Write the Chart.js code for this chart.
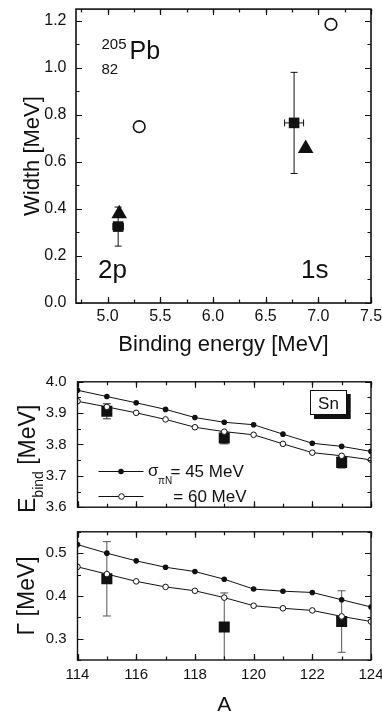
<!DOCTYPE html>
<html>
<head>
<meta charset="utf-8">
<script src="https://cdn.jsdelivr.net/npm/chart.js@4.4.1/dist/chart.umd.min.js"></script>
<style>
  html, body { margin: 0; padding: 0; background: #fff; }
  body { width: 382px; height: 715px; position: relative; overflow: hidden; }
  canvas { position: absolute; left: 0; }
  #chartTop { top: -10px; }
  #chartMid { top: 362px; }
  #chartBot { top: 512px; }
</style>
</head>
<body>
<canvas id="chartTop" width="390" height="372"></canvas>
<canvas id="chartMid" width="390" height="165"></canvas>
<canvas id="chartBot" width="390" height="203"></canvas>
<script>
// --- 205Pb widths vs binding energy (top panel)
const expBinding = [5.10, 6.77];
const expWidth = [0.325, 0.766];
const expBindingErr = [0.05, 0.09];
const expWidthErr = [0.083, 0.215];
const triBinding = [5.11, 6.88];
const triWidth = [0.38, 0.657];
const circBinding = [5.30, 7.12];
const circWidth = [0.75, 1.185];
const bindingTicks = [5.0, 5.5, 6.0, 6.5, 7.0, 7.5];
const widthTicks = [0.0, 0.2, 0.4, 0.6, 0.8, 1.0, 1.2];

// --- Sn isotopes (middle and bottom panels)
const massNumbers = [114, 115, 116, 117, 118, 119, 120, 121, 122, 123, 124];
const ebind45 = [3.973, 3.953, 3.933, 3.912, 3.886, 3.871, 3.863, 3.833, 3.804, 3.794, 3.778];
const ebind60 = [3.938, 3.920, 3.901, 3.880, 3.855, 3.841, 3.831, 3.802, 3.774, 3.764, 3.751];
const gamma45 = [0.520, 0.500, 0.482, 0.467, 0.457, 0.439, 0.416, 0.411, 0.408, 0.391, 0.374];
const gamma60 = [0.468, 0.451, 0.434, 0.421, 0.412, 0.396, 0.377, 0.371, 0.366, 0.352, 0.340];
const expMass = [115, 119, 123];
const expEbind = [3.906, 3.821, 3.743];
const expEbindErr = [0.024, 0.019, 0.018];
const expGamma = [0.440, 0.327, 0.340];
const expGammaErr = [0.087, 0.080, 0.072];
const massTicks = [114, 116, 118, 120, 122, 124];
const ebindTicks = [3.6, 3.7, 3.8, 3.9, 4.0];
const gammaTicks = [0.3, 0.4, 0.5];

const FONT = "'Liberation Sans', Arial, sans-serif";
const INK = '#111';
Chart.defaults.font.family = FONT;
Chart.defaults.color = INK;

const pairs = (xs, ys) => xs.map((v, i) => ({ x: v, y: ys[i] }));

// box + inward ticks on all four sides
function makeFrame(cfg) {
  return {
    id: 'frame',
    afterDatasetsDraw(chart) {
      const { ctx, chartArea: a } = chart;
      const xs = chart.scales.x, ys = chart.scales.y;
      ctx.save();
      ctx.strokeStyle = INK;
      ctx.lineWidth = cfg.lineWidth;
      ctx.strokeRect(a.left, a.top, a.right - a.left, a.bottom - a.top);
      ctx.lineWidth = 1.2;
      const marks = (scale, step, len, horiz) => {
        const i0 = Math.ceil(scale.min / step - 1e-6);
        const i1 = Math.floor(scale.max / step + 1e-6);
        ctx.beginPath();
        for (let i = i0; i <= i1; i++) {
          const p = Math.round(scale.getPixelForValue(i * step)) + 0.5;
          if (horiz) {
            ctx.moveTo(p, a.bottom); ctx.lineTo(p, a.bottom - len);
            ctx.moveTo(p, a.top); ctx.lineTo(p, a.top + len);
          } else {
            ctx.moveTo(a.left, p); ctx.lineTo(a.left + len, p);
            ctx.moveTo(a.right, p); ctx.lineTo(a.right - len, p);
          }
        }
        ctx.stroke();
      };
      marks(xs, cfg.xMinor, 3.5, true);
      marks(xs, cfg.xMajor, 6, true);
      marks(ys, cfg.yMinor, 3.5, false);
      marks(ys, cfg.yMajor, 6, false);
      ctx.restore();
    }
  };
}

// error bars from dataset.xErr / dataset.yErr
const errorBarPlugin = {
  id: 'errorBars',
  beforeDatasetsDraw(chart) {
    const { ctx, chartArea: a } = chart;
    const xs = chart.scales.x, ys = chart.scales.y;
    ctx.save();
    ctx.beginPath();
    ctx.rect(a.left, a.top, a.right - a.left, a.bottom - a.top);
    ctx.clip();
    chart.data.datasets.forEach(ds => {
      if (!ds.yErr && !ds.xErr) return;
      ctx.strokeStyle = ds.errColor || INK;
      ctx.lineWidth = 1;
      const cap = ds.capSize || 3.5;
      ds.data.forEach((pt, i) => {
        const px = xs.getPixelForValue(pt.x);
        const py = ys.getPixelForValue(pt.y);
        ctx.beginPath();
        if (ds.yErr) {
          const y1 = ys.getPixelForValue(pt.y + ds.yErr[i]);
          const y2 = ys.getPixelForValue(pt.y - ds.yErr[i]);
          ctx.moveTo(px, y1); ctx.lineTo(px, y2);
          ctx.moveTo(px - cap, y1); ctx.lineTo(px + cap, y1);
          ctx.moveTo(px - cap, y2); ctx.lineTo(px + cap, y2);
        }
        if (ds.xErr) {
          const x1 = xs.getPixelForValue(pt.x - ds.xErr[i]);
          const x2 = xs.getPixelForValue(pt.x + ds.xErr[i]);
          ctx.moveTo(x1, py); ctx.lineTo(x2, py);
          ctx.moveTo(x1, py - cap); ctx.lineTo(x1, py + cap);
          ctx.moveTo(x2, py - cap); ctx.lineTo(x2, py + cap);
        }
        ctx.stroke();
      });
    });
    ctx.restore();
  }
};

function text(ctx, str, x, y, size, align) {
  ctx.font = size + 'px ' + FONT;
  ctx.textAlign = align || 'left';
  ctx.textBaseline = 'alphabetic';
  ctx.fillText(str, x, y);
}

const fixedTicks = list => scale => { scale.ticks = list.map(v => ({ value: v })); };

// ---------- top panel ----------
new Chart(document.getElementById('chartTop'), {
  type: 'scatter',
  data: {
    datasets: [
      {
        data: pairs(expBinding, expWidth),
        xErr: expBindingErr, yErr: expWidthErr, capSize: 3.5,
        pointStyle: 'rect', pointRadius: 7.5,
        backgroundColor: INK, borderColor: INK, borderWidth: 0
      },
      {
        data: pairs(triBinding, triWidth),
        pointStyle: 'triangle', pointRadius: 9,
        backgroundColor: INK, borderColor: INK, borderWidth: 0
      },
      {
        data: pairs(circBinding, circWidth),
        pointStyle: 'circle', pointRadius: 5.8,
        backgroundColor: '#fff', borderColor: INK, borderWidth: 1.6
      }
    ]
  },
  options: {
    responsive: false,
    animation: false,
    layout: { padding: { top: 15, right: 19, bottom: 0, left: 0 } },
    scales: {
      x: {
        type: 'linear', min: 4.7, max: 7.5,
        afterBuildTicks: fixedTicks(bindingTicks),
        afterFit: s => { s.height = 59; },
        grid: { display: false, drawTicks: false },
        border: { display: false },
        ticks: { padding: 4, font: { size: 16 }, callback: v => v.toFixed(1) },
        title: { display: true, text: 'Binding energy [MeV]', font: { size: 22 }, padding: { top: 0, bottom: 4 } }
      },
      y: {
        min: 0, max: 1.25,
        afterBuildTicks: fixedTicks(widthTicks),
        afterFit: s => { s.width = 76; },
        grid: { display: false, drawTicks: false },
        border: { display: false },
        ticks: { padding: 9.5, font: { size: 16 }, callback: v => v.toFixed(1) },
        title: { display: true, text: 'Width [MeV]', font: { size: 22 }, padding: { top: 19.5, bottom: 0 } }
      }
    },
    plugins: { legend: { display: false }, tooltip: { enabled: false } }
  },
  plugins: [errorBarPlugin, makeFrame({ xMajor: 0.5, xMinor: 0.25, yMajor: 0.2, yMinor: 0.1, lineWidth: 1.6 }), {
    id: 'notesTop',
    afterDraw(chart) {
      const ctx = chart.ctx;
      ctx.save();
      ctx.fillStyle = INK;
      text(ctx, '205', 101.5, 59, 15);
      text(ctx, 'Pb', 129.5, 69.3, 25);
      text(ctx, '82', 101.5, 84, 15);
      text(ctx, '2p', 98, 288.3, 26);
      text(ctx, '1s', 301, 288.3, 26);
      ctx.restore();
    }
  }]
});

// ---------- middle panel: binding energy ----------
new Chart(document.getElementById('chartMid'), {
  type: 'line',
  data: {
    datasets: [
      {
        data: pairs(massNumbers, ebind45), clip: 0,
        borderColor: INK, borderWidth: 1,
        pointRadius: 2.8, pointBackgroundColor: INK, pointBorderColor: INK, pointBorderWidth: 0
      },
      {
        data: pairs(massNumbers, ebind60), clip: 0,
        borderColor: INK, borderWidth: 1,
        pointRadius: 2.8, pointBackgroundColor: '#fff', pointBorderColor: INK, pointBorderWidth: 1
      },
      {
        data: pairs(expMass, expEbind),
        yErr: expEbindErr, errColor: '#333', capSize: 4,
        showLine: false, pointStyle: 'rect', pointRadius: 7.8,
        pointBackgroundColor: INK, pointBorderWidth: 0
      }
    ]
  },
  options: {
    responsive: false,
    animation: false,
    layout: { padding: { top: 17.5, right: 19, bottom: 12, left: 0 } },
    scales: {
      x: { type: 'linear', min: 114, max: 124, display: false },
      y: {
        min: 3.6, max: 4.0,
        afterBuildTicks: fixedTicks(ebindTicks),
        afterFit: s => { s.width = 77.5; },
        grid: { display: false, drawTicks: false },
        border: { display: false },
        ticks: { padding: 10.8, font: { size: 15 }, callback: v => v.toFixed(1) },
        title: { display: false }
      }
    },
    plugins: { legend: { display: false }, tooltip: { enabled: false } }
  },
  plugins: [errorBarPlugin, makeFrame({ xMajor: 2, xMinor: 1, yMajor: 0.1, yMinor: 0.05, lineWidth: 1.4 }), {
    id: 'notesMid',
    afterDraw(chart) {
      const ctx = chart.ctx;
      ctx.save();
      ctx.fillStyle = INK;
      ctx.strokeStyle = INK;
      // y title E_bind [MeV]
      ctx.save();
      ctx.translate(35, 151);
      ctx.rotate(-Math.PI / 2);
      ctx.font = '23px ' + FONT;
      const wE = ctx.measureText('E').width;
      text(ctx, 'E', 0, 0, 23);
      ctx.font = '14px ' + FONT;
      const wSub = ctx.measureText('bind').width;
      text(ctx, 'bind', wE, 8, 14);
      text(ctx, ' [MeV]', wE + wSub, 0, 23);
      ctx.restore();
      // legend
      ctx.lineWidth = 1;
      ctx.beginPath();
      ctx.moveTo(98.5, 109.5); ctx.lineTo(143.5, 109.5);
      ctx.moveTo(98.5, 134.5); ctx.lineTo(143.5, 134.5);
      ctx.stroke();
      ctx.beginPath(); ctx.arc(121, 109.5, 2.8, 0, Math.PI * 2); ctx.fill();
      ctx.beginPath(); ctx.arc(121.5, 134.5, 2.8, 0, Math.PI * 2);
      ctx.fillStyle = '#fff'; ctx.fill(); ctx.stroke();
      ctx.fillStyle = INK;
      text(ctx, '\u03c3', 148, 114, 17);
      text(ctx, '\u03c0N', 158, 122.3, 10);
      text(ctx, '= 45 MeV', 170.5, 115, 17);
      text(ctx, '= 60 MeV', 173.3, 140.3, 17);
      // Sn box with shadow
      ctx.fillRect(314, 32, 36.7, 25);
      ctx.fillStyle = '#fff';
      ctx.fillRect(310, 28, 36.7, 25);
      ctx.strokeRect(310.5, 28.5, 36, 24);
      ctx.fillStyle = INK;
      text(ctx, 'Sn', 328.5, 46.5, 17, 'center');
      ctx.restore();
    }
  }]
});

// ---------- bottom panel: width ----------
new Chart(document.getElementById('chartBot'), {
  type: 'line',
  data: {
    datasets: [
      {
        data: pairs(massNumbers, gamma45), clip: 0,
        borderColor: INK, borderWidth: 1,
        pointRadius: 2.8, pointBackgroundColor: INK, pointBorderColor: INK, pointBorderWidth: 0
      },
      {
        data: pairs(massNumbers, gamma60), clip: 0,
        borderColor: INK, borderWidth: 1,
        pointRadius: 2.8, pointBackgroundColor: '#fff', pointBorderColor: INK, pointBorderWidth: 1
      },
      {
        data: pairs(expMass, expGamma),
        yErr: expGammaErr, errColor: '#555', capSize: 4,
        showLine: false, pointStyle: 'rect', pointRadius: 7.8,
        pointBackgroundColor: INK, pointBorderWidth: 0
      }
    ]
  },
  options: {
    responsive: false,
    animation: false,
    layout: { padding: { top: 11.3, right: 19, bottom: 0, left: 0 } },
    scales: {
      x: {
        type: 'linear', min: 114, max: 124,
        afterBuildTicks: fixedTicks(massTicks),
        afterFit: s => { s.height = 55; },
        grid: { display: false, drawTicks: false },
        border: { display: false },
        ticks: { padding: 6, font: { size: 15 } },
        title: { display: true, text: 'A', font: { size: 21 }, padding: { top: 0, bottom: -3 } }
      },
      y: {
        min: 0.25, max: 0.55,
        afterBuildTicks: fixedTicks(gammaTicks),
        afterFit: s => { s.width = 77.5; },
        grid: { display: false, drawTicks: false },
        border: { display: false },
        ticks: { padding: 10.8, font: { size: 15 }, callback: v => v.toFixed(1) },
        title: { display: true, text: '\u0393 [MeV]', font: { size: 23 }, padding: { top: 14, bottom: 0 } }
      }
    },
    plugins: { legend: { display: false }, tooltip: { enabled: false } }
  },
  plugins: [errorBarPlugin, makeFrame({ xMajor: 2, xMinor: 1, yMajor: 0.1, yMinor: 0.05, lineWidth: 1.4 })]
});
</script>
</body>
</html>
